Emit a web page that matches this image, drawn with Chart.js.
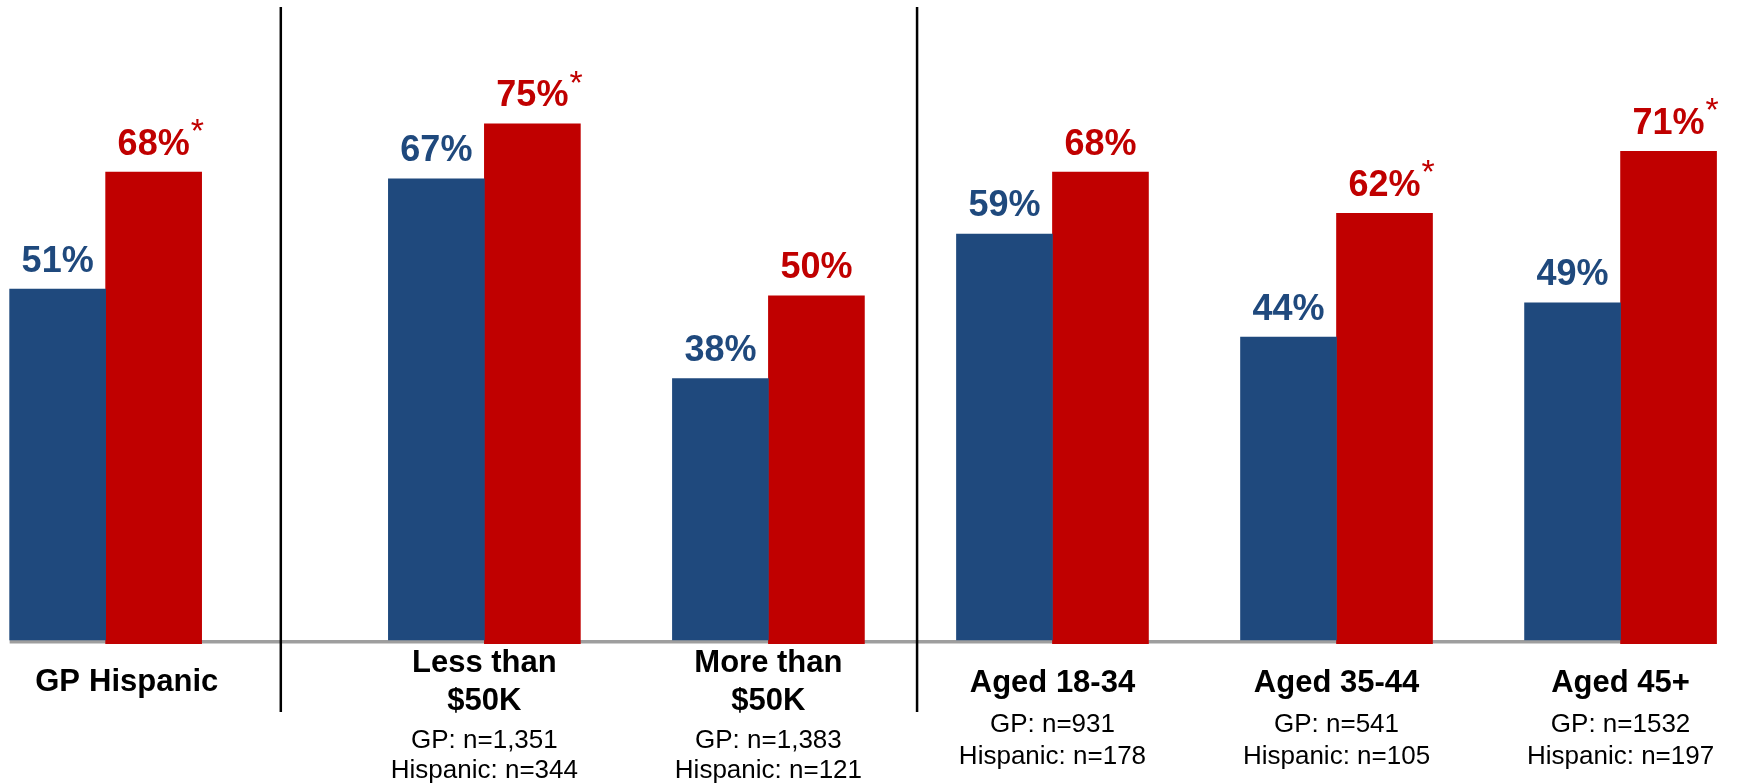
<!DOCTYPE html>
<html>
<head>
<meta charset="utf-8">
<script src="https://cdn.jsdelivr.net/npm/chart.js@4.4.1/dist/chart.umd.min.js"></script>
<style>
    html, body { margin: 0; padding: 0; background: #fff; }
    canvas { display: block; }
</style>
</head>
<body>
<canvas id="chart" width="1739" height="783"></canvas>
<script>
const seriesNames = ['GP', 'Hispanic'];
const groupTitles = [
    null,
    ['Less than', '$50K'],
    ['More than', '$50K'],
    ['Aged 18-34'],
    ['Aged 35-44'],
    ['Aged 45+']
];
const gpValues = [51, 67, 38, 59, 44, 49];
const hispanicValues = [68, 75, 50, 68, 62, 71];
const hispanicStarred = [true, true, false, false, true, true];
const gpCounts = [null, '1,351', '1,383', '931', '541', '1532'];
const hispanicCounts = [null, '344', '121', '178', '105', '197'];

// groups sit on a grid of narrow slots, empty slots make the gaps
const groupSlots = [0, 4, 7, 10, 13, 16];
const slotCount = 17;
const dividerSlots = [1.85, 8.57];

const BLUE = '#1F497D';
const RED = '#C00000';
const FONT = '"Liberation Sans", Arial, Helvetica, sans-serif';

const spread = (values) => {
    const out = new Array(slotCount).fill(null);
    groupSlots.forEach((s, i) => { out[s] = values[i]; });
    return out;
};

const slotLabels = spread(groupTitles.map((t) => t ? t.join(' ') : seriesNames.join(' ')))
    .map((l) => l || '');

const decorations = {
    id: 'decorations',
    beforeDatasetsDraw(chart) {
        const {ctx, chartArea, scales: {x, y}} = chart;
        const y0 = y.getPixelForValue(0);
        const blue = chart.getDatasetMeta(0).data;
        const red = chart.getDatasetMeta(1).data;
        const first = blue[groupSlots[0]];
        const last = red[groupSlots[groupSlots.length - 1]];

        ctx.save();
        // grey base line
        ctx.fillStyle = '#9E9E9E';
        const left = first.x - first.width / 2;
        const right = last.x + last.width / 2 - 1;
        ctx.fillRect(left, y0, right - left, 3.5);

        // panel dividers
        const step = x.getPixelForValue(1) - x.getPixelForValue(0);
        ctx.strokeStyle = '#000';
        ctx.lineWidth = 2.5;
        dividerSlots.forEach((s) => {
            const px = x.getPixelForValue(0) + s * step;
            ctx.beginPath();
            ctx.moveTo(px, chartArea.top + 7);
            ctx.lineTo(px, y0 + 72);
            ctx.stroke();
        });
        ctx.restore();
    },
    afterDatasetsDraw(chart) {
        const {ctx, scales: {y}} = chart;
        const y0 = y.getPixelForValue(0);
        const blue = chart.getDatasetMeta(0).data;
        const red = chart.getDatasetMeta(1).data;

        ctx.save();
        ctx.textBaseline = 'alphabetic';

        // value labels above the bars
        groupSlots.forEach((s, i) => {
            ctx.textAlign = 'center';
            ctx.font = 'bold 36px ' + FONT;
            ctx.fillStyle = BLUE;
            ctx.fillText(gpValues[i] + '%', blue[s].x, blue[s].y - 17.5);

            const txt = hispanicValues[i] + '%';
            ctx.fillStyle = RED;
            ctx.fillText(txt, red[s].x, red[s].y - 17.5);
            if (hispanicStarred[i]) {
                const w = ctx.measureText(txt).width;
                ctx.font = '34px ' + FONT;
                ctx.textAlign = 'left';
                ctx.fillText('*', red[s].x + w / 2 + 1, red[s].y - 30);
            }
        });

        // category labels and sample sizes
        ctx.fillStyle = '#000';
        ctx.textAlign = 'center';
        groupSlots.forEach((s, i) => {
            const cx = blue[s].x + blue[s].width / 2;
            const title = groupTitles[i];
            if (!title) {
                ctx.font = 'bold 31px ' + FONT;
                ctx.fillText(seriesNames[0], blue[s].x, y0 + 51);
                ctx.fillText(seriesNames[1], red[s].x, y0 + 51);
                return;
            }
            const two = title.length > 1;
            const titleY = two ? [y0 + 32, y0 + 70] : [y0 + 52];
            const countY = two ? [y0 + 108, y0 + 138] : [y0 + 92, y0 + 124];
            ctx.font = 'bold 31px ' + FONT;
            title.forEach((line, k) => ctx.fillText(line, cx, titleY[k]));
            ctx.font = '26px ' + FONT;
            ctx.fillText(seriesNames[0] + ': n=' + gpCounts[i], cx, countY[0]);
            ctx.fillText(seriesNames[1] + ': n=' + hispanicCounts[i], cx, countY[1]);
        });
        ctx.restore();
    }
};

new Chart(document.getElementById('chart'), {
    type: 'bar',
    data: {
        labels: slotLabels,
        datasets: [
            {
                label: seriesNames[0],
                data: spread(gpValues),
                backgroundColor: BLUE,
                clip: false
            },
            {
                label: seriesNames[1],
                data: spread(hispanicValues),
                backgroundColor: RED,
                base: -0.55,
                clip: false
            }
        ]
    },
    options: {
        responsive: false,
        animation: false,
        datasets: {
            bar: { barThickness: 96 }
        },
        layout: {
            padding: { left: 58.3, right: 71.1, top: 0, bottom: 143 }
        },
        scales: {
            x: { display: false, offset: true },
            y: { display: false, min: 0, max: 93 }
        },
        plugins: {
            legend: { display: false },
            tooltip: { enabled: false }
        }
    },
    plugins: [decorations]
});
</script>
</body>
</html>
